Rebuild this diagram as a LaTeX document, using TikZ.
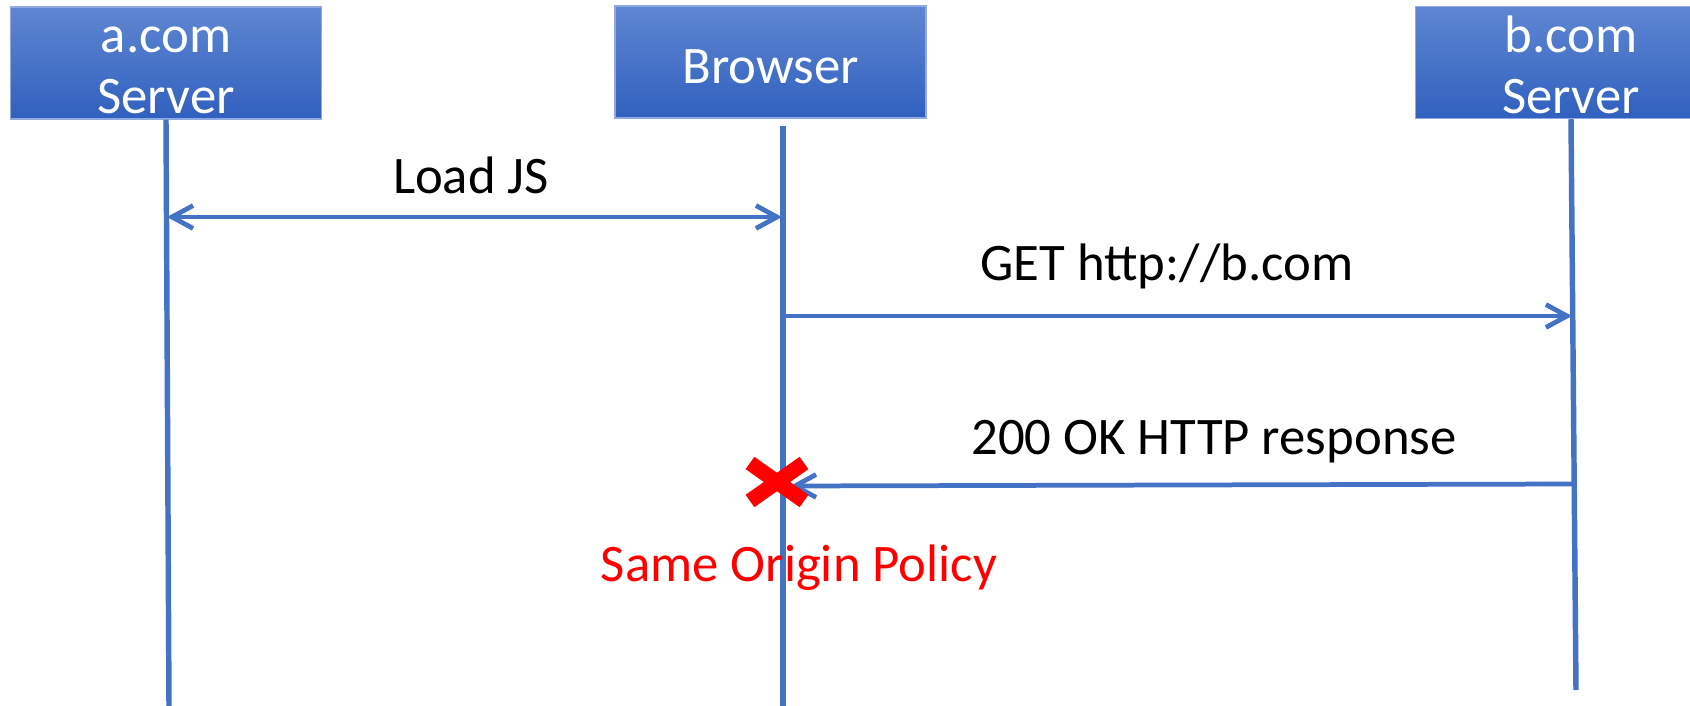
\documentclass[tikz,border=0pt]{standalone}
\usepackage{fontspec}
\setmainfont{Carlito}
\usetikzlibrary{arrows.meta,calc}
\definecolor{lblue}{HTML}{4472C4}
\definecolor{btop}{HTML}{5F86D2}
\definecolor{bbot}{HTML}{3060BE}
\tikzset{
  actor/.style={draw=btop!70!white, line width=0.4pt, top color=btop, bottom color=bbot,
    minimum width=3.11cm, minimum height=1.12cm, inner sep=0pt},
  actortext/.style={text=white, align=center, font=\fontsize{15}{17.4}\selectfont, inner sep=0pt},
  life/.style={draw=lblue, line width=1.55pt},
  msg/.style={draw=lblue, line width=1.35pt, -{Straight Barb[length=6pt,width=6.5pt,line width=1.35pt]}},
  lbl/.style={font=\fontsize{15}{17.6}\selectfont, text=black, inner sep=0pt},
  xmark/.style={draw=red, line width=4.3pt},
}
\begin{document}
\begin{tikzpicture}[x=0.01cm,y=-0.01cm]
\clip (0,0) rectangle (1690,706);
\fill[white] (0,0) rectangle (1690,706);
% actors
\node[actor] (a) at (166,63) {};
\node[actor] (br) at (770.5,62) {};
\node[actor] (b) at (1571,62.5) {};
\node[actortext] (at) at (166,70) {a.com\\Server};
\node[actortext] (brt) at (770.5,67) {Browser};
\node[actortext] (bt) at (1571,65) {b.com\\Server};
% lifelines
\coordinate (aend) at (169,706);
\coordinate (brtop) at (783,126);
\coordinate (brend) at (783,706);
\coordinate (bend) at (1576,690);
\draw[life] (a.south) -- (aend);
\draw[life] (brtop) -- (brend);
\draw[life] (b.south) -- (bend);
% message endpoints
\coordinate (m1a) at (167,217);
\coordinate (m1b) at (782,217);
\coordinate (m2a) at (784,316);
\coordinate (m2b) at (1572,316);
\coordinate (m3a) at (1573,484);
\coordinate (m3b) at (790,486);
\draw[msg,{Straight Barb[length=6pt,width=6.5pt,line width=1.35pt]}-{Straight Barb[length=6pt,width=6.5pt,line width=1.35pt]}] (m1a) -- (m1b);
\draw[msg] (m2a) -- (m2b);
\draw[msg] (m3a) -- (m3b);
% labels
\node[lbl] (l1) at (471,175) {Load JS};
\node[lbl] (l2) at (1167,266) {GET http://b.com};
\node[lbl] (l3) at (1214,442) {200 OK HTTP response};
\node[lbl, text=red] (sop) at (799,568) {Same Origin Policy};
% X mark
\coordinate (xc) at (777,482);
\draw[xmark] ($(xc)+(-27,-19)$) -- ($(xc)+(27,19)$);
\draw[xmark] ($(xc)+(-27,19)$) -- ($(xc)+(27,-19)$);
\end{tikzpicture}
\end{document}
